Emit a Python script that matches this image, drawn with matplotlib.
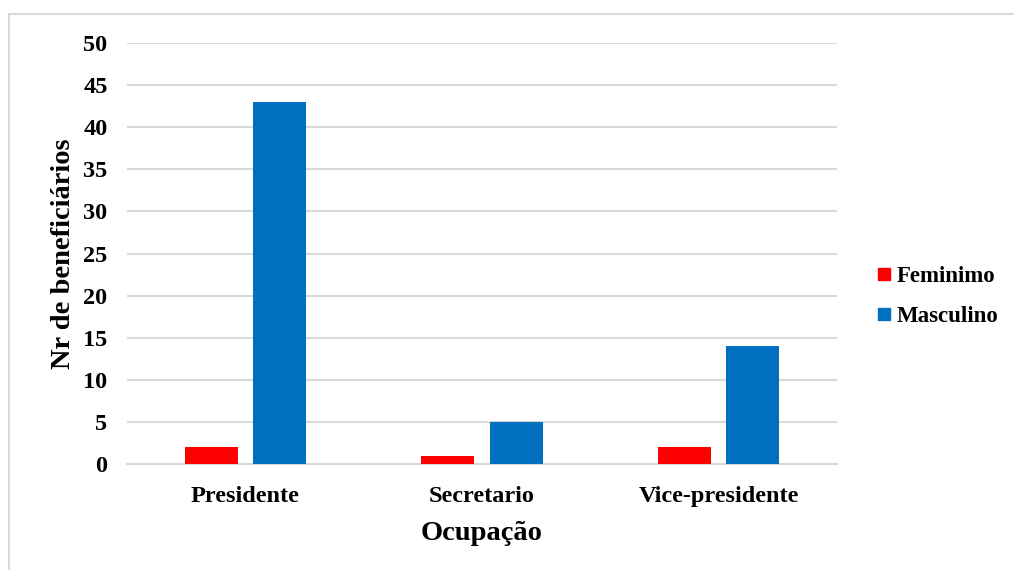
import matplotlib
matplotlib.use("Agg")
import matplotlib.pyplot as plt
from matplotlib.lines import Line2D
import numpy as np

categories = ["Presidente", "Secretario", "Vice-presidente"]
feminino = [2, 1, 2]
masculino = [43, 5, 14]
series_names = ["Feminimo", "Masculino"]
yticks = [0, 5, 10, 15, 20, 25, 30, 35, 40, 45, 50]

plt.rcParams['font.family'] = ['Liberation Serif', 'DejaVu Serif']
plt.rcParams['font.weight'] = 'bold'

W, H = 1014, 570
fig = plt.figure(figsize=(W / 100, H / 100), dpi=100)
ax = fig.add_axes([127 / W, 1 - 464 / H, (837 - 127) / W, (464 - 43) / H])

x = np.arange(len(categories))
bw = 0.224
off = 0.145
red = "#FF0000"
blue = "#0070C0"
ax.bar(x - off, feminino, bw, color=red, zorder=3, label=series_names[0])
ax.bar(x + off, masculino, bw, color=blue, zorder=3, label=series_names[1])

ax.set_xlim(-0.5, len(categories) - 0.5)
ax.set_ylim(0, 50)
ax.set_yticks(yticks)
ax.set_xticks(x)
ax.set_xticklabels(categories, fontsize=17.5, fontweight='bold')
for lab in ax.get_yticklabels():
    lab.set_fontsize(17.5)
    lab.set_fontweight('bold')
ax.tick_params(axis='both', length=0)
ax.tick_params(axis='y', pad=14)
ax.tick_params(axis='x', pad=16)
ax.yaxis.grid(True, color="#D9D9D9", linewidth=1.5, zorder=0)
ax.set_axisbelow(True)
for s in ["top", "right", "left"]:
    ax.spines[s].set_visible(False)
ax.spines["bottom"].set_color("#D9D9D9")
ax.spines["bottom"].set_linewidth(1.5)

ax.set_xlabel("Ocupação", fontsize=20.5, fontweight='bold', labelpad=10)
ax.set_ylabel("Nr de beneficiários", fontsize=20.5, fontweight='bold', labelpad=5)

handles = [Line2D([], [], marker='s', linestyle='none', markersize=8,
                  markerfacecolor=red, markeredgecolor=red),
           Line2D([], [], marker='s', linestyle='none', markersize=8,
                  markerfacecolor=blue, markeredgecolor=blue)]
fig.legend(handles, series_names, loc='center left',
           bbox_to_anchor=(853 / W, 1 - 296.5 / H), frameon=False,
           prop={'family': 'Liberation Serif', 'weight': 'bold', 'size': 16.5},
           handletextpad=0.1, labelspacing=0.8, handlelength=0.9)

# chart border
fig.add_artist(Line2D([8.5 / W, 1.0], [1 - 13.5 / H, 1 - 13.5 / H],
                      transform=fig.transFigure, color="#D9D9D9", linewidth=1.5))
fig.add_artist(Line2D([8.5 / W, 8.5 / W], [0, 1 - 13.5 / H],
                      transform=fig.transFigure, color="#D9D9D9", linewidth=1.5))

fig.savefig("out.png", dpi=100)
